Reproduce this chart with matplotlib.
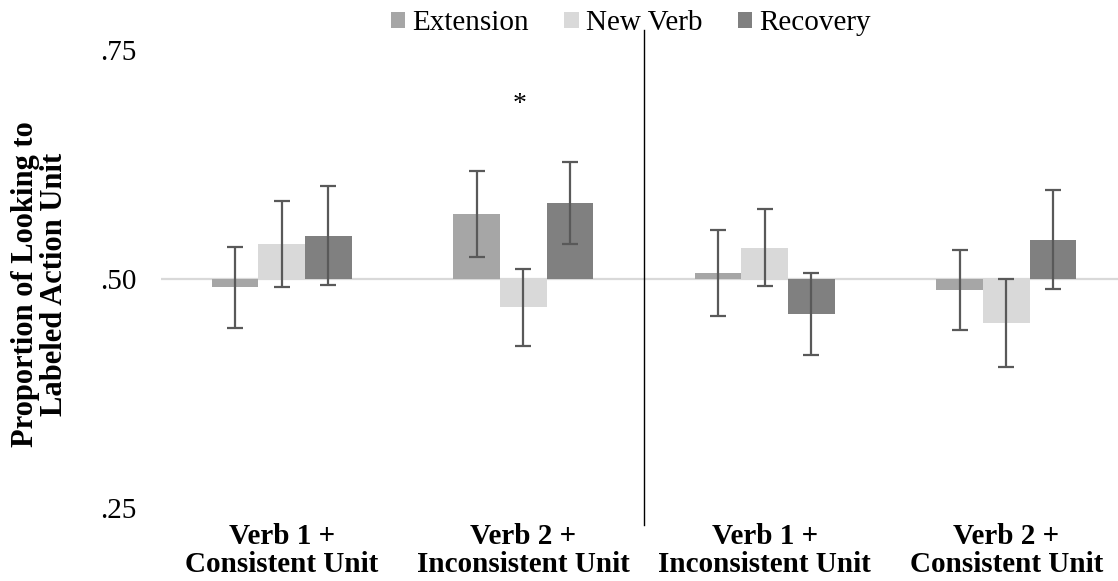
import numpy as np
import matplotlib.pyplot as plt
from matplotlib.patches import Patch

plt.rcParams['font.family'] = ['Liberation Serif', 'DejaVu Serif']

groups = ["Verb 1 +\nConsistent Unit", "Verb 2 +\nInconsistent Unit",
          "Verb 1 +\nInconsistent Unit", "Verb 2 +\nConsistent Unit"]
series = ["Extension", "New Verb", "Recovery"]
extension = [0.491, 0.571, 0.507, 0.488]
new_verb = [0.538, 0.469, 0.534, 0.452]
recovery = [0.547, 0.583, 0.462, 0.543]
ext_err = [0.044, 0.047, 0.047, 0.044]
new_err = [0.047, 0.042, 0.042, 0.048]
rec_err = [0.054, 0.045, 0.045, 0.054]
colors = ["#a6a6a6", "#d9d9d9", "#808080"]
baseline = 0.5

fig = plt.figure(figsize=(11.18, 5.81), dpi=100)
ax = fig.add_axes([161 / 1118, 0.0783, 966 / 1118, 0.883])

x = np.arange(len(groups))
w = 0.193
vals = [extension, new_verb, recovery]
errs = [ext_err, new_err, rec_err]
ax.axhline(baseline, color="#d9d9d9", lw=1.6, zorder=1)
for i in range(3):
    v = np.array(vals[i])
    xs = x + (i - 1) * w
    ax.bar(xs, v - baseline, w, bottom=baseline, color=colors[i], zorder=2)
    ax.errorbar(xs, v, yerr=errs[i], fmt="none", ecolor="#595959",
                elinewidth=1.6, capsize=5.5, capthick=1.6, zorder=3)

# divider between the two verb pairs
ax.plot([1.5, 1.5], [0.2314, 0.772], color="black", lw=1, clip_on=False)
ax.text(0.985, 0.69, "*", ha="center", va="center", fontsize=20)

ax.set_xlim(-0.5, 3.5)
ax.set_ylim(0.22, 0.78)
ax.set_yticks([0.25, 0.50, 0.75])
ax.set_yticklabels([".25", ".50", ".75"], fontsize=21)
ax.set_xticks(x)
ax.set_xticklabels(groups, fontsize=21, fontweight="bold", linespacing=1.05)
ax.tick_params(axis="y", length=0, pad=18)
ax.tick_params(axis="x", length=0, pad=-9)
for s in ax.spines.values():
    s.set_visible(False)
fig.text(40 / 1118, 0.511, "Proportion of Looking to\nLabeled Action Unit",
         fontsize=22, fontweight="bold", rotation=90, ha="center", va="center",
         linespacing=1.0)

handles = [Patch(facecolor=c, edgecolor="none") for c in colors]
fig.legend(handles, series, loc="center", bbox_to_anchor=(0.5644, 0.96), ncol=3,
           frameon=False, fontsize=21, handlelength=0.5, handleheight=0.5,
           handletextpad=0.25, columnspacing=1.2, borderpad=0)

fig.savefig("out.png", dpi=100)
